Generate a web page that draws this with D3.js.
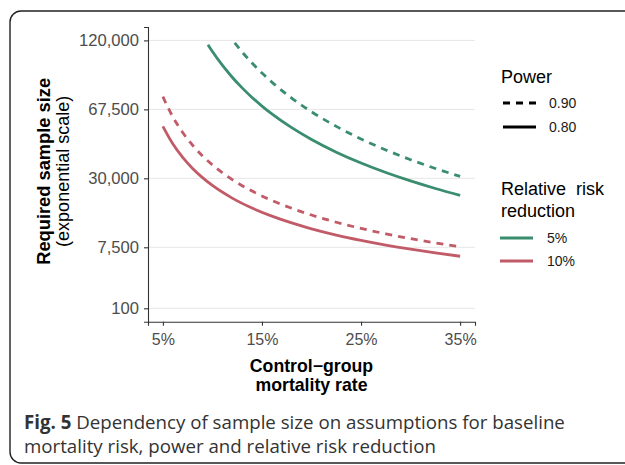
<!DOCTYPE html>
<html>
<head>
<meta charset="utf-8">
<script src="https://cdn.jsdelivr.net/npm/d3@7"></script>
<style>
  body { margin: 0; background: #fff; }
</style>
</head>
<body>
<div class="samplechart"></div>
<script>
var svgWidth = 625;
var svgHeight = 465;

// control-group mortality rate (%) and total sample size
var rateRed = [5, 6, 7, 8, 9, 10, 12, 14, 16, 18, 20, 22.5, 25, 27.5, 30, 32.5, 35];
var rrr10Power80 = [56810, 46870, 39770, 34440, 30300, 26985, 22010, 18460, 15800, 13730, 12070, 10410, 9090, 8000, 7100, 6340, 5680];
var rrr10Power90 = [76050, 62740, 53240, 46110, 40560, 36120, 29470, 24720, 21150, 18380, 16160, 13940, 12170, 10715, 9505, 8480, 7605];

var rateGreenSolid = [9.55, 10, 11, 12, 13, 14, 15, 16, 18, 20, 22.5, 25, 27.5, 30, 32.5, 35];
var rrr5Power80 = [116270, 110500, 99370, 90090, 82240, 75510, 69680, 64580, 56080, 49280, 42470, 37030, 32580, 28870, 25730, 23040];

var rateGreenDashed = [12.25, 13, 14, 15, 16, 18, 20, 22.5, 25, 27.5, 30, 32.5, 35];
var rrr5Power90 = [117800, 110100, 101090, 93290, 86460, 75070, 65970, 56860, 49570, 43610, 38650, 34440, 30840];

var xTicks = [5, 15, 25, 35];
var yTicks = [100, 7500, 30000, 67500, 120000];
var yLimits = [100, 120000];
var xLimits = [5, 35];

var powerLabels = ["0.90", "0.80"];
var rrrLabels = ["5%", "10%"];

var green = "#3a8d6e";
var red = "#c25b68";

var series = [
  { x: rateGreenDashed, y: rrr5Power90, color: green, dashed: true },
  { x: rateGreenSolid, y: rrr5Power80, color: green, dashed: false },
  { x: rateRed, y: rrr10Power90, color: red, dashed: true },
  { x: rateRed, y: rrr10Power80, color: red, dashed: false }
];

var sans = "Liberation Sans, Arial, sans-serif";
var plot = { left: 148, right: 475, top: 27, bottom: 321.7 };

var svg = d3.select(".samplechart")
  .append("svg")
  .attr("width", svgWidth)
  .attr("height", svgHeight)
  .attr("font-family", sans);

// rounded frame around figure (right side runs off the page)
svg.append("rect")
  .attr("x", 10)
  .attr("y", 11)
  .attr("width", 660)
  .attr("height", 452)
  .attr("rx", 11)
  .attr("fill", "none")
  .attr("stroke", "#222")
  .attr("stroke-width", 1.4);

// x scale with 5% expansion like ggplot
var xPad = (xLimits[1] - xLimits[0]) * 0.05;
var xScale = d3.scaleLinear()
  .domain([xLimits[0] - xPad, xLimits[1] + xPad])
  .range([plot.left, plot.right]);

// y on square-root ("exponential") scale, expansion done in sqrt space
var s0 = Math.sqrt(yLimits[0]), s1 = Math.sqrt(yLimits[1]);
var sPad = (s1 - s0) * 0.05;
var lo = s0 - sPad, hi = s1 + sPad;
var yScale = d3.scaleSqrt()
  .domain([lo < 0 ? -lo * lo : lo * lo, hi * hi])
  .range([plot.bottom, plot.top]);

// grid
svg.append("g")
  .selectAll("line")
  .data(yTicks)
  .enter()
  .append("line")
  .attr("x1", plot.left)
  .attr("x2", plot.right)
  .attr("y1", d => yScale(d))
  .attr("y2", d => yScale(d))
  .attr("stroke", "#e6e6e6")
  .attr("stroke-width", 1);

// axes
var leftAxis = d3.axisLeft(yScale)
  .tickValues(yTicks)
  .tickFormat(d3.format(","))
  .tickSize(4)
  .tickPadding(5);

var bottomAxis = d3.axisBottom(xScale)
  .tickValues(xTicks)
  .tickFormat(d => d + "%")
  .tickSize(4)
  .tickPadding(8);

var yAxis = svg.append("g")
  .attr("transform", `translate(${plot.left}, 0)`)
  .call(leftAxis);

var xAxis = svg.append("g")
  .attr("transform", `translate(0, ${plot.bottom})`)
  .call(bottomAxis);

[yAxis, xAxis].forEach(function(ax) {
  ax.attr("font-family", sans).attr("font-size", 16);
  ax.select(".domain").attr("stroke", "#333").attr("stroke-width", 1.1);
  ax.selectAll(".tick line").attr("stroke", "#333").attr("stroke-width", 1.1);
  ax.selectAll(".tick text").attr("fill", "#4d4d4d");
});
yAxis.attr("font-size", 16.6);

// the lines
var line = d3.line()
  .x(d => xScale(d[0]))
  .y(d => yScale(d[1]))
  .curve(d3.curveMonotoneX);

svg.append("g")
  .selectAll("path")
  .data(series)
  .enter()
  .append("path")
  .attr("d", d => line(d.x.map((v, i) => [v, d.y[i]])))
  .attr("fill", "none")
  .attr("stroke", d => d.color)
  .attr("stroke-width", 2.8)
  .attr("stroke-dasharray", d => d.dashed ? "7,6" : null);

// axis titles
var xTitle = svg.append("text")
  .attr("text-anchor", "middle")
  .attr("font-weight", "bold")
  .attr("font-size", 17.7)
  .attr("fill", "#000");
xTitle.append("tspan").attr("x", (plot.left + plot.right) / 2).attr("y", 371.5).text("Control\u2212group");
xTitle.append("tspan").attr("x", (plot.left + plot.right) / 2).attr("y", 390.5).text("mortality rate");

var yMid = (plot.top + plot.bottom) / 2 - 3;
svg.append("text")
  .attr("transform", `translate(50, ${yMid}) rotate(-90)`)
  .attr("text-anchor", "middle")
  .attr("font-weight", "bold")
  .attr("font-size", 18.3)
  .text("Required sample size");
svg.append("text")
  .attr("transform", `translate(68.5, ${yMid}) rotate(-90)`)
  .attr("text-anchor", "middle")
  .attr("font-size", 18)
  .text("(exponential scale)");

// legend: power
var legend = svg.append("g");
legend.append("text")
  .attr("x", 501).attr("y", 83)
  .attr("font-size", 18)
  .text("Power");

var powerY = [103, 127];
legend.selectAll(".pkey")
  .data(powerLabels)
  .enter()
  .append("line")
  .attr("x1", 503).attr("x2", 536)
  .attr("y1", (d, i) => powerY[i]).attr("y2", (d, i) => powerY[i])
  .attr("stroke", "#000")
  .attr("stroke-width", 2.8)
  .attr("stroke-dasharray", (d, i) => i === 0 ? "7,6" : null);
legend.selectAll(".plab")
  .data(powerLabels)
  .enter()
  .append("text")
  .attr("x", 549)
  .attr("y", (d, i) => powerY[i])
  .attr("dy", "0.35em")
  .attr("font-size", 14)
  .attr("fill", "#1a1a1a")
  .text(d => d);

// legend: relative risk reduction
var rrrTitle = legend.append("text")
  .attr("font-size", 18)
  .attr("xml:space", "preserve")
  .style("white-space", "pre");
rrrTitle.append("tspan").attr("x", 501).attr("y", 195).text("Relative  risk");
rrrTitle.append("tspan").attr("x", 501).attr("y", 217).text("reduction");

var rrrY = [238, 261];
var rrrColors = [green, red];
legend.selectAll(".rkey")
  .data(rrrLabels)
  .enter()
  .append("line")
  .attr("x1", 500).attr("x2", 533)
  .attr("y1", (d, i) => rrrY[i]).attr("y2", (d, i) => rrrY[i])
  .attr("stroke", (d, i) => rrrColors[i])
  .attr("stroke-width", 2.8);
legend.selectAll(".rlab")
  .data(rrrLabels)
  .enter()
  .append("text")
  .attr("x", 547)
  .attr("y", (d, i) => rrrY[i])
  .attr("dy", "0.35em")
  .attr("font-size", 14)
  .attr("fill", "#1a1a1a")
  .text(d => d);

// caption
var caption = svg.append("text")
  .attr("font-family", "Open Sans, Noto Sans, sans-serif")
  .attr("font-size", 18.7)
  .attr("fill", "#333");
var c1 = caption.append("tspan").attr("x", 24).attr("y", 429);
c1.append("tspan").attr("font-weight", "bold").text("Fig. 5");
c1.append("tspan").text(" Dependency of sample size on assumptions for baseline");
caption.append("tspan").attr("x", 24).attr("y", 453).text("mortality risk, power and relative risk reduction");
</script>
</body>
</html>
